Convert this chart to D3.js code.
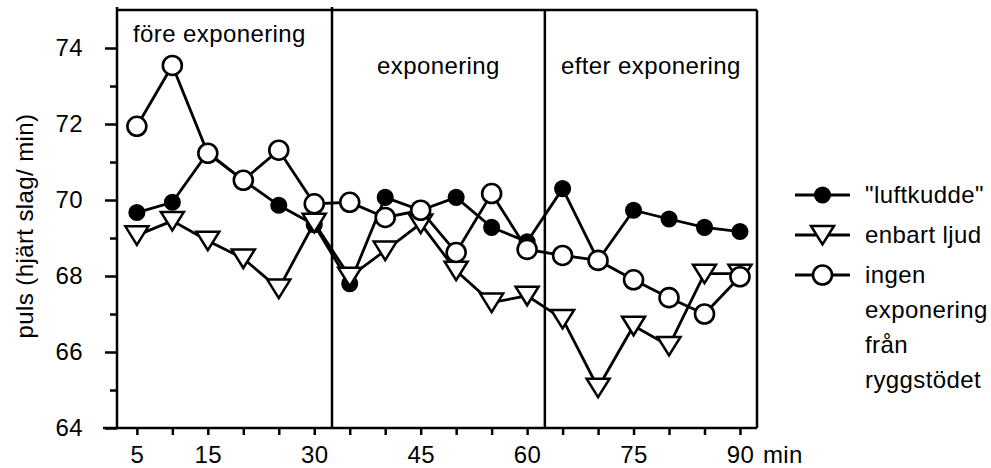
<!DOCTYPE html>
<html>
<head>
<meta charset="utf-8">
<script src="https://cdn.jsdelivr.net/npm/d3@7"></script>
<style>
body { margin: 0; background: #fff; }
text { font-family: "Liberation Sans", Arial, sans-serif; font-size: 24px; letter-spacing: 0.4px; fill: #000; }
.frame { stroke: #000; stroke-width: 2.5; fill: none; }
.series { fill: none; stroke: #000; stroke-width: 2.8; }
</style>
</head>
<body>
<div id="chart"></div>
<script>
// minutes of measurement
var minutes = [5, 10, 15, 20, 25, 30, 35, 40, 45, 50, 55, 60, 65, 70, 75, 80, 85, 90];

// pulse per series
var luftkudde = [69.67, 69.94, 71.25, 70.52, 69.86, 69.35, 67.8, 70.07, 69.73, 70.07, 69.28, 68.9, 70.3, 68.41, 69.73, 69.5, 69.28, 69.17];
var enbartLjud = [69.07, 69.45, 68.93, 68.46, 67.67, 69.4, 67.98, 68.67, 69.38, 68.14, 67.3, 67.48, 66.87, 65.06, 66.69, 66.16, 68.06, 68.06];
var ingenExponering = [71.94, 73.54, 71.23, 70.52, 71.31, 69.9, 69.94, 69.54, 69.73, 68.62, 70.17, 68.7, 68.54, 68.41, 67.9, 67.43, 67.0, 67.98];

var yTicks = [64, 66, 68, 70, 72, 74];
var yMinorTicks = [65, 67, 69, 71, 73];
var xTicks = [5, 10, 15, 20, 25, 30, 35, 40, 45, 50, 55, 60, 65, 70, 75, 80, 85, 90];
var xLabels = [5, 15, 30, 45, 60, 75, 90];
var phaseBreaks = [32.5, 62.5];
var phases = [
	{ label: "före exponering", from: 2.2, to: 32.5, anchor: "start" },
	{ label: "exponering", from: 32.5, to: 62.5, anchor: "middle" },
	{ label: "efter exponering", from: 62.5, to: 92.4, anchor: "middle" }
];

var W = 991, H = 468;
var margin = { top: 10, right: 234, bottom: 40, left: 117 };
var plotRight = W - margin.right;
var plotBottom = H - margin.bottom;

var svg = d3.select("#chart").append("svg")
	.attr("width", W)
	.attr("height", H);

//Scales
var x = d3.scaleLinear().domain([2.2, 92.4]).range([margin.left, plotRight]);
var y = d3.scaleLinear().domain([64, 75]).range([plotBottom, margin.top]);

//Frame
svg.append("line").attr("class", "frame")
	.attr("x1", margin.left).attr("x2", margin.left)
	.attr("y1", margin.top - 3).attr("y2", plotBottom);
svg.append("line").attr("class", "frame")
	.attr("x1", margin.left - 14).attr("x2", plotRight)
	.attr("y1", plotBottom).attr("y2", plotBottom);
svg.append("line").attr("class", "frame")
	.attr("x1", margin.left).attr("x2", plotRight)
	.attr("y1", margin.top).attr("y2", margin.top);
svg.append("line").attr("class", "frame")
	.attr("x1", plotRight).attr("x2", plotRight)
	.attr("y1", margin.top).attr("y2", plotBottom);

//Phase dividers
svg.selectAll(".divider")
	.data(phaseBreaks)
	.enter().append("line")
	.attr("class", "frame divider")
	.attr("x1", function(d) { return x(d); })
	.attr("x2", function(d) { return x(d); })
	.attr("y1", function(d, i) { return i === 0 ? margin.top - 3 : margin.top; })
	.attr("y2", plotBottom);

//Phase labels
svg.selectAll(".phase")
	.data(phases)
	.enter().append("text")
	.attr("class", "phase")
	.attr("x", function(d) { return d.anchor === "start" ? x(d.from) + 16 : (x(d.from) + x(d.to)) / 2; })
	.attr("y", function(d, i) { return i === 0 ? 42 : 74; })
	.attr("text-anchor", function(d) { return d.anchor; })
	.text(function(d) { return d.label; });

//Y axis
var yAxis = svg.append("g")
	.attr("transform", "translate(" + margin.left + ",0)")
	.call(d3.axisLeft(y).tickValues(yTicks).tickSize(12).tickPadding(22));
yAxis.select(".domain").remove();
yAxis.selectAll("line").attr("stroke-width", 2.5);
yAxis.selectAll("text").attr("font-size", null).attr("font-family", null);

var yMinor = svg.append("g")
	.attr("transform", "translate(" + margin.left + ",0)")
	.call(d3.axisLeft(y).tickValues(yMinorTicks).tickSize(7).tickFormat(""));
yMinor.select(".domain").remove();
yMinor.selectAll("line").attr("stroke-width", 2.5);

//X axis
var xAxis = svg.append("g")
	.attr("transform", "translate(0," + plotBottom + ")")
	.call(d3.axisBottom(x).tickValues(xTicks).tickSize(7).tickPadding(11)
		.tickFormat(function(d) { return xLabels.indexOf(d) >= 0 ? d : ""; }));
xAxis.select(".domain").remove();
xAxis.selectAll("line").attr("stroke-width", 2.5);
xAxis.selectAll("text").attr("font-size", null).attr("font-family", null);

svg.append("text")
	.attr("x", x(90) + 23)
	.attr("y", plotBottom + 35)
	.text("min");

//Y axis title
svg.append("text")
	.attr("transform", "translate(33," + 226 + ") rotate(-90)")
	.attr("text-anchor", "middle")
	.text("puls (hjärt slag/ min)");

//Markers
var triPath = "M-11.5,-9L11.5,-9L0,9.5Z";
function drawMarker(g, type) {
	if (type === "filled") {
		g.append("circle").attr("r", 7.8).attr("fill", "#000").attr("stroke", "#000").attr("stroke-width", 1.5);
	} else if (type === "triangle") {
		g.append("path").attr("d", triPath).attr("fill", "#fff").attr("stroke", "#000").attr("stroke-width", 2.5);
	} else {
		g.append("circle").attr("r", 9.5).attr("fill", "#fff").attr("stroke", "#000").attr("stroke-width", 2.6);
	}
}

var seriesList = [
	{ name: "\"luftkudde\"", values: luftkudde, marker: "filled" },
	{ name: "enbart ljud", values: enbartLjud, marker: "triangle" },
	{ name: "ingen exponering från ryggstödet", values: ingenExponering, marker: "open" }
];

var line = d3.line()
	.x(function(d) { return x(d.t); })
	.y(function(d) { return y(d.v); });

seriesList.forEach(function(s) {
	var pts = minutes.map(function(t, i) { return { t: t, v: s.values[i] }; });
	var g = svg.append("g");
	g.append("path").attr("class", "series").attr("d", line(pts));
	g.selectAll(".pt")
		.data(pts)
		.enter().append("g")
		.attr("transform", function(d) { return "translate(" + x(d.t) + "," + y(d.v) + ")"; })
		.each(function() { drawMarker(d3.select(this), s.marker); });
});

//Legend
var legendLines = [["\"luftkudde\""], ["enbart ljud"], ["ingen", "exponering", "från", "ryggstödet"]];
var legend = svg.append("g").attr("transform", "translate(795,195)");
seriesList.forEach(function(s, i) {
	var row = legend.append("g").attr("transform", "translate(0," + (i * 40) + ")");
	row.append("line")
		.attr("x1", 0).attr("x2", 55)
		.attr("stroke", "#000").attr("stroke-width", 2.8);
	drawMarker(row.append("g").attr("transform", "translate(27.5,0)"), s.marker);
	row.append("text")
		.attr("x", 70)
		.attr("y", 8)
		.selectAll("tspan")
		.data(legendLines[i])
		.enter().append("tspan")
		.attr("x", 70)
		.attr("dy", function(d, j) { return j === 0 ? 0 : 35; })
		.text(function(d) { return d; });
});
</script>
</body>
</html>
